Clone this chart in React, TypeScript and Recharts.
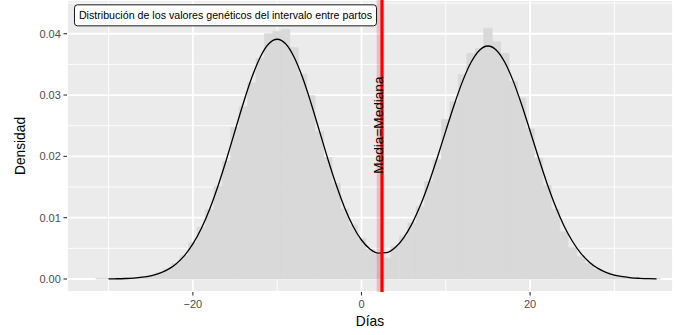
import React from 'react';
import {
  ComposedChart,
  Bar,
  Line,
  XAxis,
  YAxis,
  CartesianGrid,
  ReferenceLine,
  ReferenceDot,
} from 'recharts';

// ---- data ----
const binCenters = [
  -31, -30, -29, -28, -27, -26, -25, -24, -23, -22, -21, -20, -19, -18, -17, -16,
  -15, -14, -13, -12, -11, -10, -9, -8, -7, -6, -5, -4, -3, -2, -1, 0,
  1, 2, 3, 4, 5, 6, 7, 8, 9, 10, 11, 12, 13, 14, 15, 16,
  17, 18, 19, 20, 21, 22, 23, 24, 25, 26, 27, 28, 29, 30, 31, 32,
  33, 34, 35,
];

const histDensity = [
  0.0001, 0.0001, 0.0001, 0.0001, 0.0002, 0.0003, 0.0006, 0.001, 0.0016, 0.0025, 0.0038, 0.0059, 0.0084, 0.0113, 0.0151, 0.0192,
  0.0247, 0.0281, 0.032, 0.036, 0.04, 0.0404, 0.0407, 0.0377, 0.0334, 0.0299, 0.024, 0.0198, 0.0156, 0.0114, 0.0088, 0.0066,
  0.0048, 0.004, 0.0034, 0.0053, 0.007, 0.0091, 0.0118, 0.0159, 0.0194, 0.026, 0.0289, 0.0333, 0.0368, 0.0376, 0.0409, 0.0387,
  0.0368, 0.0322, 0.0295, 0.0245, 0.0197, 0.0152, 0.0113, 0.0077, 0.0051, 0.0037, 0.0025, 0.0016, 0.0011, 0.0006, 0.0003, 0.0002,
  0.0001, 0.0001, 0.00005,
];

const curveDensity: (number | null)[] = [
  null, 0.00002, 0.00004, 0.00008, 0.00015, 0.00029, 0.00052, 0.0009, 0.00152, 0.00246, 0.00382, 0.00572, 0.00824, 0.01143, 0.01525, 0.01957,
  0.02418, 0.02875, 0.03289, 0.03621, 0.03836, 0.0391, 0.03836, 0.03621, 0.03289, 0.02875, 0.0242, 0.01962, 0.01536, 0.01163, 0.00861, 0.00636,
  0.00491, 0.00423, 0.00431, 0.00513, 0.00672, 0.00903, 0.01205, 0.0157, 0.01982, 0.02416, 0.02843, 0.03227, 0.03534, 0.03732, 0.038, 0.03732,
  0.03534, 0.03227, 0.02843, 0.02414, 0.01978, 0.01562, 0.0119, 0.00874, 0.0062, 0.00423, 0.00279, 0.00177, 0.00109, 0.00064, 0.00037, 0.0002,
  0.00011, 0.00005, 0.00003,
];

const xTicks = [-20, 0, 20];
const xMinorTicks = [-30, -10, 10, 30];
const yTicks = [0, 0.01, 0.02, 0.03, 0.04];
const yMinorTicks = [0.005, 0.015, 0.025, 0.035, 0.045];
const xDomain: [number, number] = [-34.93, 36.95];
const yDomain: [number, number] = [-0.00212, 0.0455];

const meanValue = 2.0;
const medianValue = 2.43;
const titleText = 'Distribución de los valores genéticos del intervalo entre partos';
const titlePos = { x: -16.13, y: 0.043 };
const lineLabel = 'Media=Mediana';
const lineLabelY = 0.0251;
const xTitle = 'Días';
const yTitle = 'Densidad';

const chartData = binCenters.map((x, i) => ({
  x,
  hist: histDensity[i],
  dens: curveDensity[i],
}));

// ---- styles ----
const FONT = '"Liberation Sans", Arial, Helvetica, sans-serif';
const W = 679;
const H = 335;

const applyScale = (axis: any, v: number, fallback: () => number) => {
  if (axis && axis.scale) {
    if (typeof axis.scale === 'function') return axis.scale(v);
    if (typeof axis.scale.map === 'function') return axis.scale.map(v);
  }
  return fallback();
};

const minorV = (props: any) => {
  const { xAxis, offset } = props;
  return xMinorTicks.map((v) =>
    applyScale(xAxis, v, () => offset.left + ((v - xDomain[0]) / (xDomain[1] - xDomain[0])) * offset.width)
  );
};

const minorH = (props: any) => {
  const { yAxis, offset } = props;
  return yMinorTicks.map((v) =>
    applyScale(yAxis, v, () => offset.top + ((yDomain[1] - v) / (yDomain[1] - yDomain[0])) * offset.height)
  );
};

const TitleBox = (props: any) => {
  const { cx, cy } = props;
  const bw = 302;
  const bh = 21;
  return (
    <g>
      <rect
        x={cx - bw / 2}
        y={cy - bh / 2}
        width={bw}
        height={bh}
        rx={3}
        ry={3}
        fill="#FFFFFF"
        stroke="#000000"
        strokeWidth={0.9}
      />
      <text
        x={cx}
        y={cy}
        textAnchor="middle"
        dominantBaseline="central"
        fontFamily={FONT}
        fontSize={10.67}
        fill="#000000"
      >
        {titleText}
      </text>
    </g>
  );
};

const LineLabel = (props: any) => {
  const { cx, cy } = props;
  return (
    <text
      transform={`translate(${cx + 1.3},${cy}) rotate(-90)`}
      textAnchor="middle"
      fontFamily={FONT}
      fontSize={13.6}
      fill="#000000"
    >
      {lineLabel}
    </text>
  );
};

const YTitle = (props: any) => {
  const vb = props.viewBox || { x: 0, y: 0, width: 67, height: 292 };
  const bx = vb.x + 25;
  const cy = vb.y + vb.height / 2;
  return (
    <text
      transform={`translate(${bx},${cy}) rotate(-90)`}
      textAnchor="middle"
      fontFamily={FONT}
      fontSize={13.75}
      fill="#000000"
    >
      {yTitle}
    </text>
  );
};

const fmtX = (v: number) => String(v).replace('-', '\u2212');
const fmtY = (v: number) => v.toFixed(2);

export default function App() {
  return (
    <div style={{ position: 'absolute', left: 0, top: 0, width: W, height: H, background: '#FFFFFF' }}>
      <ComposedChart
        width={W}
        height={H}
        data={chartData}
        margin={{ top: 0, right: 6, bottom: 0, left: 0 }}
        barCategoryGap={0}
        barGap={0}
        style={{ fontFamily: FONT }}
      >
        <CartesianGrid
          fill="#EBEBEB"
          stroke="#FFFFFF"
          strokeWidth={0.9}
          verticalCoordinatesGenerator={minorV}
          horizontalCoordinatesGenerator={minorH}
        />
        <CartesianGrid stroke="#FFFFFF" strokeWidth={1.8} fill="none" />
        <XAxis
          dataKey="x"
          type="number"
          domain={xDomain}
          ticks={xTicks}
          allowDataOverflow
          height={43}
          axisLine={false}
          tickSize={3.5}
          tickMargin={4.5}
          tickLine={{ stroke: '#333333', strokeWidth: 1.1 }}
          tick={{ fill: '#4D4D4D', fontSize: 11, fontFamily: FONT }}
          tickFormatter={fmtX}
          label={{ value: xTitle, position: 'insideBottom', offset: 9.5, fill: '#000000', fontSize: 13.75, fontFamily: FONT }}
        />
        <YAxis
          type="number"
          domain={yDomain}
          ticks={yTicks}
          allowDataOverflow
          width={67}
          axisLine={false}
          tickSize={3.5}
          tickMargin={2.7}
          tickLine={{ stroke: '#333333', strokeWidth: 1.1 }}
          tick={{ fill: '#4D4D4D', fontSize: 11, fontFamily: FONT }}
          tickFormatter={fmtY}
          label={{ content: YTitle }}
        />
        <Bar
          dataKey="hist"
          fill="#D9D9D9"
          stroke="#D9D9D9"
          strokeWidth={0.8}
          barSize={8.43}
          isAnimationActive={false}
        />
        <Line
          dataKey="dens"
          type="monotone"
          stroke="#000000"
          strokeWidth={1.3}
          dot={false}
          activeDot={false}
          isAnimationActive={false}
        />
        <ReferenceLine x={meanValue} stroke="#FF0000" strokeOpacity={0.2} strokeWidth={3.3} />
        <ReferenceLine x={medianValue} stroke="#FF0000" strokeWidth={3.3} />
        <ReferenceDot x={medianValue} y={lineLabelY} r={1} shape={LineLabel} />
        <ReferenceDot x={titlePos.x} y={titlePos.y} r={1} shape={TitleBox} />
      </ComposedChart>
    </div>
  );
}
